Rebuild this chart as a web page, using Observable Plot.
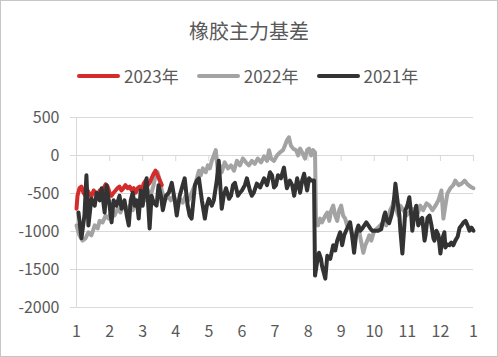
<!DOCTYPE html>
<html>
<head>
<meta charset="utf-8">
<script src="https://cdn.jsdelivr.net/npm/d3@7"></script>
<script src="https://cdn.jsdelivr.net/npm/@observablehq/plot@0.6"></script>
<style>
  html, body { margin: 0; padding: 0; background: #fff; }
  #chart { position: relative; width: 498px; height: 357px; background: #fff; overflow: hidden;
    font-family: "Noto Sans CJK SC", "Noto Sans", sans-serif; color: #595959; }
  #title { position: absolute; left: 0; width: 498px; top: 17px; text-align: center; font-size: 20px; line-height: 28px; }
  #legend { position: absolute; left: 77px; top: 64px; display: flex; align-items: center; font-size: 17px; line-height: 24px; }
  .item { display: flex; align-items: center; margin-right: 18px; }
  .swatch { width: 43px; height: 4px; border-radius: 2px; margin-right: 4px; }
  #plot { position: absolute; left: 0; top: 0; }
  #border { position: absolute; left: 0; top: 0; width: 498px; height: 357px; box-sizing: border-box; border: 1px solid #c6c6c6; pointer-events: none; }
</style>
</head>
<body>
<div id="chart">
  <div id="title"></div>
  <div id="legend"></div>
  <div id="plot"></div>
  <div id="border"></div>
</div>
<script>
const titleText = "橡胶主力基差";
const seriesNames = ["2023年", "2022年", "2021年"];
const seriesColors = ["#d42b2b", "#a3a3a3", "#333333"];
const monthTicks = [0,1,2,3,4,5,6,7,8,9,10,11,12];
const monthLabels = ["1","2","3","4","5","6","7","8","9","10","11","12","1"];
const yTicks = [500, 0, -500, -1000, -1500, -2000];

// x: position in months since Jan 1 (0 = month 1, 12 = next month 1)
const x2023 = [0.00,0.03,0.09,0.15,0.21,0.27,0.33,0.39,0.45,0.52,0.58,0.64,0.70,0.76,0.82,0.88,0.94,1.00,1.06,1.12,1.18,1.24,1.30,1.36,1.42,1.48,1.55,1.61,1.67,1.73,1.79,1.85,1.91,1.97,2.03,2.09,2.15,2.21,2.27,2.33,2.39,2.45,2.52,2.58];
const y2023 = [-700,-530,-430,-410,-490,-530,-460,-500,-540,-460,-490,-530,-460,-500,-430,-380,-410,-490,-530,-490,-460,-430,-410,-460,-430,-390,-430,-410,-460,-430,-490,-430,-410,-460,-370,-330,-390,-360,-300,-240,-200,-260,-330,-390];

const x2022 = [0.00,0.09,0.18,0.27,0.36,0.45,0.55,0.64,0.70,0.79,0.88,0.97,1.06,1.15,1.24,1.33,1.42,1.52,1.61,1.70,1.79,1.88,1.97,2.06,2.15,2.24,2.33,2.39,2.45,2.52,2.58,2.67,2.76,2.85,2.94,3.03,3.12,3.21,3.30,3.39,3.48,3.58,3.64,3.70,3.76,3.82,3.91,3.97,4.03,4.09,4.15,4.21,4.27,4.33,4.39,4.48,4.58,4.67,4.76,4.85,4.94,5.03,5.12,5.21,5.30,5.39,5.48,5.58,5.67,5.76,5.82,5.88,5.97,6.06,6.15,6.24,6.30,6.36,6.42,6.48,6.55,6.64,6.70,6.76,6.82,6.91,6.97,7.03,7.09,7.15,7.21,7.24,7.30,7.36,7.42,7.52,7.58,7.64,7.70,7.76,7.82,7.88,7.94,8.00,8.06,8.12,8.18,8.24,8.30,8.36,8.42,8.48,8.55,8.61,8.67,8.73,8.79,8.85,8.91,9.00,9.09,9.18,9.27,9.36,9.42,9.48,9.55,9.61,9.67,9.73,9.79,9.88,9.97,10.06,10.15,10.24,10.33,10.39,10.48,10.58,10.67,10.76,10.85,10.94,11.03,11.09,11.15,11.21,11.30,11.39,11.45,11.55,11.64,11.73,11.82,11.91,12.00];
const y2022 = [-920,-1050,-1120,-1090,-1010,-1050,-920,-960,-860,-880,-790,-830,-720,-790,-700,-750,-660,-720,-660,-720,-590,-660,-530,-590,-460,-530,-390,-260,-220,-330,-460,-590,-530,-590,-530,-660,-570,-620,-530,-590,-490,-390,-300,-200,-260,-170,-220,-130,-170,-70,0,70,-200,-130,-220,-90,-170,-130,-200,-70,-130,-40,-90,-130,-70,-110,-40,-90,-10,-70,70,-40,-70,0,40,70,130,200,240,130,90,70,0,90,40,-40,70,90,0,70,40,-880,-920,-830,-880,-790,-750,-860,-720,-660,-790,-860,-720,-660,-790,-830,-920,-880,-990,-1120,-1050,-960,-1010,-1145,-1280,-1180,-1120,-1050,-1120,-990,-960,-920,-880,-920,-830,-720,-660,-550,-720,-790,-660,-720,-790,-750,-700,-720,-750,-660,-720,-630,-660,-720,-660,-590,-460,-830,-660,-500,-430,-390,-330,-390,-370,-330,-380,-410,-430];

const x2021 = [0.06,0.15,0.24,0.30,0.36,0.45,0.55,0.61,0.70,0.76,0.85,0.91,1.00,1.06,1.12,1.21,1.30,1.36,1.45,1.52,1.58,1.64,1.70,1.76,1.82,1.88,1.94,2.00,2.06,2.12,2.21,2.27,2.33,2.42,2.48,2.55,2.61,2.70,2.79,2.88,2.97,3.03,3.12,3.21,3.27,3.36,3.42,3.48,3.58,3.64,3.70,3.79,3.88,3.94,4.00,4.09,4.15,4.24,4.30,4.39,4.45,4.52,4.61,4.67,4.73,4.79,4.88,4.94,5.00,5.09,5.15,5.24,5.30,5.36,5.45,5.55,5.61,5.67,5.76,5.85,5.91,5.97,6.03,6.09,6.18,6.27,6.36,6.45,6.52,6.58,6.67,6.76,6.82,6.88,6.97,7.03,7.09,7.18,7.21,7.27,7.33,7.39,7.42,7.52,7.58,7.67,7.76,7.82,7.88,7.97,8.03,8.09,8.18,8.27,8.33,8.39,8.45,8.52,8.58,8.64,8.70,8.76,8.82,8.88,8.94,9.03,9.12,9.21,9.30,9.33,9.39,9.45,9.52,9.58,9.64,9.70,9.76,9.79,9.85,9.91,9.94,10.00,10.06,10.12,10.15,10.21,10.27,10.33,10.39,10.45,10.52,10.55,10.61,10.67,10.73,10.79,10.82,10.88,10.94,11.00,11.06,11.12,11.15,11.21,11.27,11.33,11.39,11.45,11.52,11.58,11.64,11.70,11.76,11.82,11.88,11.94,12.00];
const y2021 = [-750,-1090,-790,-260,-920,-570,-660,-490,-590,-430,-750,-390,-660,-880,-590,-660,-530,-700,-590,-790,-920,-590,-490,-660,-590,-830,-460,-660,-460,-300,-960,-530,-620,-660,-390,-530,-720,-530,-490,-360,-590,-790,-530,-390,-300,-660,-790,-830,-390,-330,-300,-590,-830,-660,-570,-660,-590,-330,-70,-700,-530,-430,-570,-530,-390,-360,-530,-490,-460,-390,-300,-460,-530,-490,-370,-420,-360,-300,-390,-220,-260,-420,-390,-260,-300,-160,-430,-330,-390,-530,-300,-490,-330,-240,-460,-300,-330,-330,-1580,-1410,-1280,-1360,-1450,-1620,-1320,-1360,-1180,-1250,-1120,-1010,-1180,-1050,-960,-880,-1050,-1280,-1050,-920,-990,-960,-920,-880,-920,-960,-990,-990,-990,-970,-790,-750,-860,-890,-790,-660,-370,-590,-790,-990,-1290,-920,-720,-660,-550,-790,-990,-790,-660,-920,-860,-820,-1120,-1050,-820,-790,-920,-1090,-1120,-990,-1050,-1290,-1090,-1010,-1210,-1170,-1180,-1145,-1180,-1120,-1070,-950,-920,-880,-860,-920,-990,-950,-990];

document.getElementById("title").textContent = titleText;
const legend = document.getElementById("legend");
seriesNames.forEach((n, i) => {
  const it = document.createElement("div"); it.className = "item";
  const sw = document.createElement("div"); sw.className = "swatch"; sw.style.background = seriesColors[i];
  const tx = document.createElement("span"); tx.textContent = n;
  it.appendChild(sw); it.appendChild(tx); legend.appendChild(it);
});

const toRows = (xs, ys) => xs.map((x, i) => ({x, y: ys[i]}));
const d2023 = toRows(x2023, y2023);
const d2022 = toRows(x2022, y2022);
const d2021 = toRows(x2021, y2021);

const lineOpts = {x: "x", y: "y", strokeWidth: 4, strokeLinejoin: "round", strokeLinecap: "round"};

const chart = Plot.plot({
  width: 498, height: 357,
  marginTop: 117, marginBottom: 50, marginLeft: 76, marginRight: 25,
  style: {background: "transparent", fontFamily: "'Noto Sans CJK SC', 'Noto Sans', sans-serif", color: "#595959"},
  x: {domain: [0, 12]},
  y: {domain: [-2000, 500]},
  marks: [
    Plot.gridY(yTicks, {stroke: "#d9d9d9", strokeOpacity: 1, strokeWidth: 1}),
    Plot.axisY(yTicks, {tickSize: 6, tickPadding: 11, stroke: "#d9d9d9", fontSize: 16, fill: "#595959", tickFormat: d => String(d), label: null}),
    Plot.ruleX([0], {stroke: "#d9d9d9", strokeWidth: 1}),
    Plot.ruleX(monthTicks, {x: d => d, y1: 0, y2: 0, insetBottom: -6, stroke: "#d9d9d9", strokeWidth: 1}),
    Plot.axisX(monthTicks, {tickSize: 0, tickPadding: 18, fontSize: 16, fill: "#595959", tickFormat: (d, i) => monthLabels[i], label: null}),
    Plot.line(d2022, {...lineOpts, stroke: seriesColors[1]}),
    Plot.line(d2023, {...lineOpts, stroke: seriesColors[0]}),
    Plot.line(d2021, {...lineOpts, stroke: seriesColors[2]})
  ]
});
document.getElementById("plot").appendChild(chart);
</script>
</body>
</html>
